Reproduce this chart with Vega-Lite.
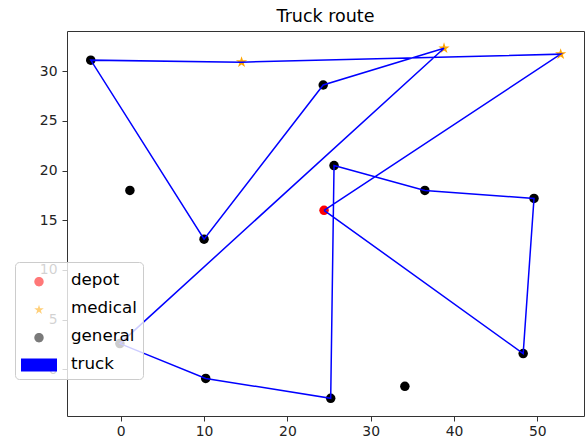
{
  "$schema": "https://vega.github.io/schema/vega-lite/v6.json",
  "width": 517,
  "height": 385,
  "autosize": {"type": "none"},
  "padding": {"left": 67, "top": 31, "right": 2, "bottom": 27},
  "title": {"text": "Truck route", "fontSize": 17.5, "font": "DejaVu Sans", "fontWeight": "normal", "color": "#000000", "baseline": "alphabetic", "offset": -8, "anchor": "middle"},
  "config": {
    "view": {"stroke": "#333333", "strokeWidth": 1},
    "axis": {"grid": false, "domain": false, "ticks": true, "tickColor": "#333333", "tickSize": 5, "tickWidth": 1, "labelFont": "DejaVu Sans", "labelFontSize": 13.9, "labelColor": "#222222", "labelFlush": false, "title": null},
    "legend": {"orient": "none", "legendX": -52, "legendY": 231, "title": null, "padding": 6, "rowPadding": 7, "symbolSize": 576, "symbolStrokeWidth": 0, "labelOffset": 26, "labelFont": "DejaVu Sans", "labelFontSize": 16.7, "labelColor": "#000000", "fillColor": "rgba(255,255,255,0.8)", "strokeColor": "#cccccc", "cornerRadius": 4, "symbolOpacity": 1}
  },
  "datasets": {
    "points": [
      {"type": "depot", "x": 24.4, "y": 16.0},
      {"type": "medical", "x": 14.5, "y": 30.9},
      {"type": "medical", "x": 38.8, "y": 32.3},
      {"type": "medical", "x": 52.8, "y": 31.7},
      {"type": "general", "x": -3.6, "y": 31.1},
      {"type": "general", "x": 1.1, "y": 18.0},
      {"type": "general", "x": 10.0, "y": 13.1},
      {"type": "general", "x": 24.3, "y": 28.6},
      {"type": "general", "x": 25.6, "y": 20.5},
      {"type": "general", "x": 36.5, "y": 18.0},
      {"type": "general", "x": 49.6, "y": 17.2},
      {"type": "general", "x": 48.3, "y": 1.6},
      {"type": "general", "x": 34.1, "y": -1.7},
      {"type": "general", "x": 25.2, "y": -2.9},
      {"type": "general", "x": 10.2, "y": -0.9},
      {"type": "general", "x": -0.1, "y": 2.6}
    ],
    "route": [
      {"step": 1, "x": 24.4, "y": 16.0},
      {"step": 2, "x": 52.8, "y": 31.7},
      {"step": 3, "x": 14.5, "y": 30.9},
      {"step": 4, "x": -3.6, "y": 31.1},
      {"step": 5, "x": 10.0, "y": 13.1},
      {"step": 6, "x": 24.3, "y": 28.6},
      {"step": 7, "x": 38.8, "y": 32.3},
      {"step": 8, "x": -0.1, "y": 2.6},
      {"step": 9, "x": 10.2, "y": -0.9},
      {"step": 10, "x": 25.2, "y": -2.9},
      {"step": 11, "x": 25.6, "y": 20.5},
      {"step": 12, "x": 36.5, "y": 18.0},
      {"step": 13, "x": 49.6, "y": 17.2},
      {"step": 14, "x": 48.3, "y": 1.6},
      {"step": 15, "x": 24.4, "y": 16.0}
    ]
  },
  "encoding": {
    "x": {"field": "x", "type": "quantitative", "scale": {"domain": [-6.45, 55.6], "nice": false, "zero": false}, "axis": {"values": [0, 10, 20, 30, 40, 50], "labelPadding": 3}},
    "y": {"field": "y", "type": "quantitative", "scale": {"domain": [-4.68, 34.03], "nice": false, "zero": false}, "axis": {"values": [0, 5, 10, 15, 20, 25, 30], "labelPadding": 5}}
  },
  "layer": [
    {
      "data": {"name": "points"},
      "transform": [{"filter": "datum.type !== 'medical'"}],
      "mark": {"type": "point", "filled": true, "shape": "circle", "size": 90, "opacity": 1},
      "encoding": {
        "color": {"field": "type", "type": "nominal", "scale": {"domain": ["depot", "general"], "range": ["#ff0000", "#000000"]}, "legend": null}
      }
    },
    {
      "data": {"name": "points"},
      "transform": [{"filter": "datum.type === 'medical'"}],
      "mark": {"type": "point", "filled": true, "shape": "M0,-1L0.2245,-0.309L0.951,-0.309L0.363,0.118L0.588,0.809L0,0.382L-0.588,0.809L-0.363,0.118L-0.951,-0.309L-0.2245,-0.309Z", "size": 140, "color": "#ffa500", "opacity": 1}
    },
    {
      "data": {"name": "route"},
      "mark": {"type": "line", "color": "#0000ff", "strokeWidth": 1.5},
      "encoding": {"order": {"field": "step", "type": "quantitative"}}
    },
    {
      "data": {"name": "points"},
      "transform": [{"filter": "false"}],
      "mark": {"type": "point", "filled": true, "size": 576, "opacity": 1},
      "encoding": {
        "fill": {"field": "type", "type": "nominal", "scale": {"domain": ["depot", "medical", "general", "truck"], "range": ["#ff7878", "#ffd07a", "#7a7a7a", "#0000ff"]}},
        "shape": {"field": "type", "type": "nominal", "scale": {"domain": ["depot", "medical", "general", "truck"], "range": [
          "M0.11,0.15A0.39,0.39 0 1,1 0.89,0.15A0.39,0.39 0 1,1 0.11,0.15Z",
          "M0.5,-0.27L0.5943,0.0207L0.8995,0.0207L0.6525,0.2001L0.747,0.4907L0.5,0.3111L0.253,0.4907L0.3475,0.2001L0.1005,0.0207L0.4057,0.0207Z",
          "M0.11,0.15A0.39,0.39 0 1,1 0.89,0.15A0.39,0.39 0 1,1 0.11,0.15Z",
          "M-1,-0.45H2V0.63H-1Z"
        ]}}
      }
    }
  ]
}
